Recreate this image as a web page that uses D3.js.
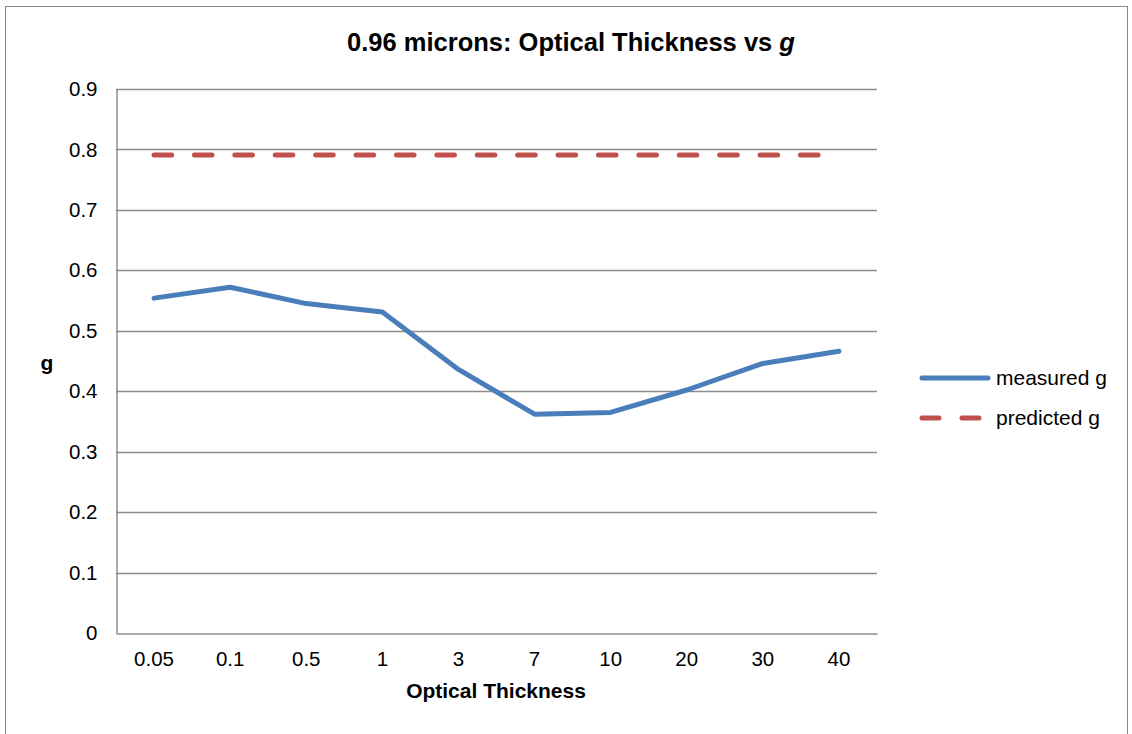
<!DOCTYPE html>
<html>
<head>
<meta charset="utf-8">
<script src="https://cdn.jsdelivr.net/npm/d3@7"></script>
<style>
  body { margin: 0; background: #fff; }
  text { font-family: "Liberation Sans", Arial, sans-serif; fill: #000; }
</style>
</head>
<body>
<div id="chart"></div>
<script>
// Data
const categories = ["0.05", "0.1", "0.5", "1", "3", "7", "10", "20", "30", "40"];
const measured = [0.554, 0.572, 0.545, 0.531, 0.436, 0.362, 0.365, 0.402, 0.446, 0.466];
const predicted = [0.791, 0.791, 0.791, 0.791, 0.791, 0.791, 0.791, 0.791, 0.791, 0.791];
const yTicks = [0, 0.1, 0.2, 0.3, 0.4, 0.5, 0.6, 0.7, 0.8, 0.9];

const W = 1132, H = 734;
const plot = {left: 116, right: 877, top: 89, bottom: 633};

const svg = d3.select("#chart").append("svg")
    .attr("width", W)
    .attr("height", H);

// outer frame
svg.append("rect")
    .attr("x", 5.5).attr("y", 6.5)
    .attr("width", 1122).attr("height", 740)
    .attr("fill", "none")
    .attr("stroke", "#888")
    .attr("stroke-width", 1);

const x = d3.scaleBand()
    .domain(categories)
    .range([plot.left, plot.right]);

const y = d3.scaleLinear()
    .domain([0, 0.9])
    .range([plot.bottom, plot.top]);

// gridlines
svg.append("g")
    .selectAll("line")
    .data(yTicks.filter(d => d > 0))
    .enter()
    .append("line")
    .attr("x1", plot.left)
    .attr("x2", plot.right)
    .attr("y1", d => Math.round(y(d)) + 0.5)
    .attr("y2", d => Math.round(y(d)) + 0.5)
    .attr("stroke", "#8c8c8c")
    .attr("stroke-width", 1.5);

// y axis
const yAxis = svg.append("g")
    .attr("transform", `translate(${plot.left + 0.5},0)`)
    .call(d3.axisLeft(y).tickValues(yTicks).tickSize(0).tickPadding(19)
        .tickFormat(d => d === 0 ? "0" : d3.format(".1f")(d)));
yAxis.select(".domain").attr("stroke", "#8c8c8c").attr("stroke-width", 1.5);
yAxis.selectAll("text")
    .style("font-size", "20.5px")
    .style("font-family", "Liberation Sans, Arial, sans-serif")
    .attr("fill", "#000");

// x axis
const xAxis = svg.append("g")
    .attr("transform", `translate(0,${plot.bottom + 0.5})`)
    .call(d3.axisBottom(x).tickSize(0).tickPadding(18));
xAxis.select(".domain").attr("stroke", "#8c8c8c").attr("stroke-width", 1.5);
xAxis.selectAll("text")
    .style("font-size", "20.5px")
    .style("font-family", "Liberation Sans, Arial, sans-serif")
    .attr("fill", "#000");

const line = d3.line()
    .x((d, i) => x(categories[i]) + x.bandwidth() / 2)
    .y(d => y(d));

// predicted (dashed)
svg.append("path")
    .datum(predicted)
    .attr("d", line)
    .attr("fill", "none")
    .attr("stroke", "#C0504D")
    .attr("stroke-width", 5)
    .attr("stroke-dasharray", "17.6,22.8")
    .attr("stroke-linecap", "round");

// measured
svg.append("path")
    .datum(measured)
    .attr("d", line)
    .attr("fill", "none")
    .attr("stroke", "#4A7EBB")
    .attr("stroke-width", 5)
    .attr("stroke-linejoin", "round")
    .attr("stroke-linecap", "round");

// title
const title = svg.append("text")
    .attr("x", 571)
    .attr("y", 51)
    .attr("text-anchor", "middle")
    .style("font-size", "25.5px")
    .style("font-weight", "bold");
title.append("tspan").text("0.96 microns: Optical Thickness vs ");
title.append("tspan").style("font-style", "italic").text("g");

// axis titles
svg.append("text")
    .attr("x", 47)
    .attr("y", 370)
    .attr("text-anchor", "middle")
    .style("font-size", "21px")
    .style("font-weight", "bold")
    .text("g");

svg.append("text")
    .attr("x", 496)
    .attr("y", 698)
    .attr("text-anchor", "middle")
    .style("font-size", "21px")
    .style("font-weight", "bold")
    .text("Optical Thickness");

// legend
const legend = [
    {name: "measured g", color: "#4A7EBB", dash: null, y: 378},
    {name: "predicted g", color: "#C0504D", dash: "17,23", y: 418}
];
const lg = svg.append("g");
lg.selectAll("line")
    .data(legend)
    .enter()
    .append("line")
    .attr("x1", 922)
    .attr("x2", 988)
    .attr("y1", d => d.y)
    .attr("y2", d => d.y)
    .attr("stroke", d => d.color)
    .attr("stroke-width", 5)
    .attr("stroke-linecap", "round")
    .attr("stroke-dasharray", d => d.dash);
lg.selectAll("text")
    .data(legend)
    .enter()
    .append("text")
    .attr("x", 996)
    .attr("y", d => d.y + 7)
    .style("font-size", "21px")
    .text(d => d.name);
</script>
</body>
</html>
